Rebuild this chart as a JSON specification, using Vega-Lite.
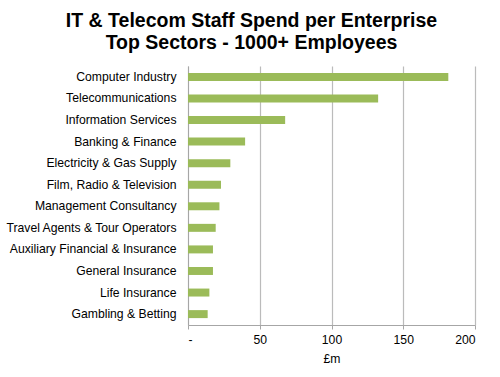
{
  "$schema": "https://vega.github.io/schema/vega-lite/v6.json",
  "autosize": {"type": "none"},
  "padding": {"left": 188, "top": 66, "right": 25, "bottom": 52},
  "width": 287,
  "height": 259,
  "background": "white",
  "title": {
    "text": ["IT & Telecom Staff Spend per Enterprise", "Top Sectors - 1000+ Employees"],
    "font": "Liberation Sans",
    "fontSize": 19.5,
    "fontWeight": "bold",
    "color": "#000000",
    "anchor": "middle",
    "dx": -80,
    "offset": 13,
    "lineHeight": 22
  },
  "data": {
    "values": [
      {"sector": "Computer Industry", "spend": 181.4},
      {"sector": "Telecommunications", "spend": 132.5},
      {"sector": "Information Services", "spend": 67.7},
      {"sector": "Banking & Finance", "spend": 39.8},
      {"sector": "Electricity & Gas Supply", "spend": 29.5},
      {"sector": "Film, Radio & Television", "spend": 23.0},
      {"sector": "Management Consultancy", "spend": 21.9},
      {"sector": "Travel Agents & Tour Operators", "spend": 19.3},
      {"sector": "Auxiliary Financial & Insurance", "spend": 17.4},
      {"sector": "General Insurance", "spend": 17.4},
      {"sector": "Life Insurance", "spend": 14.9},
      {"sector": "Gambling & Betting", "spend": 13.7}
    ]
  },
  "mark": {"type": "bar", "color": "#9BBB59"},
  "encoding": {
    "y": {
      "field": "sector",
      "type": "nominal",
      "sort": null,
      "scale": {"paddingInner": 0.63, "paddingOuter": 0.32},
      "axis": {
        "title": null,
        "ticks": false,
        "domain": true,
        "domainColor": "#A6A6A6",
        "labelPadding": 12,
        "labelFont": "Liberation Sans",
        "labelFontSize": 12.2,
        "labelColor": "#000000",
        "labelLimit": 200
      }
    },
    "x": {
      "field": "spend",
      "type": "quantitative",
      "scale": {"domain": [0, 200], "nice": false},
      "axis": {
        "values": [0, 50, 100, 150, 200],
        "labelExpr": "datum.value == 0 ? '-' : datum.label",
        "title": "£m",
        "titleFont": "Liberation Sans",
        "titleFontSize": 12.2,
        "titleFontWeight": "normal",
        "titleColor": "#000000",
        "titlePadding": 7,
        "labelFont": "Liberation Sans",
        "labelFontSize": 12.2,
        "labelColor": "#000000",
        "labelPadding": 4,
        "grid": true,
        "gridColor": "#BBBBBB",
        "gridWidth": 1.2,
        "domainColor": "#A6A6A6",
        "tickColor": "#A6A6A6",
        "tickSize": 4
      }
    }
  },
  "config": {"view": {"stroke": null}}
}
